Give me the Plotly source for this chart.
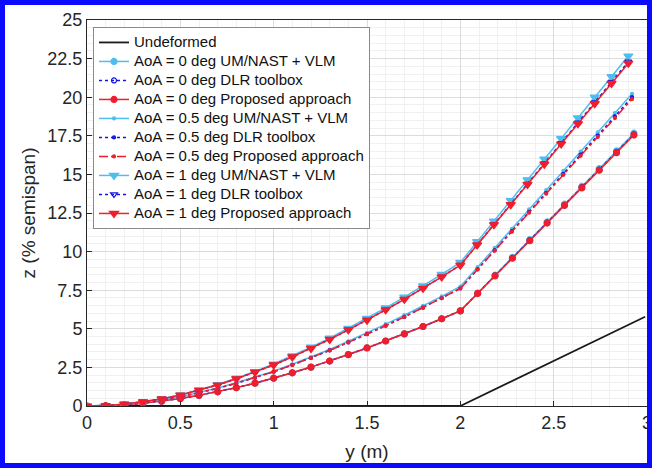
import plotly.graph_objects as go

# ---- data ----
y_in = [0, 0.1, 0.2, 0.3, 0.4, 0.5, 0.6, 0.7, 0.8, 0.9, 1.0,
        1.1, 1.2, 1.3, 1.4, 1.5, 1.6, 1.7, 1.8, 1.9, 2.0]
y_out_0 = [2.093, 2.186, 2.279, 2.372, 2.465, 2.558, 2.651, 2.744, 2.837, 2.93]
y_out_05 = [2.092, 2.184, 2.276, 2.368, 2.46, 2.552, 2.644, 2.736, 2.828, 2.92]
y_out_1 = [2.09, 2.18, 2.27, 2.36, 2.45, 2.54, 2.63, 2.72, 2.81, 2.90]

y_undeformed = [0, 2.0, 2.99]
z_undeformed = [0, 0, 5.78]

z0_in = [0, 0.02, 0.08, 0.18, 0.31, 0.48, 0.69, 0.92, 1.19, 1.48, 1.80,
         2.15, 2.52, 2.91, 3.33, 3.76, 4.21, 4.67, 5.15, 5.65, 6.16]
z0_um = z0_in + [7.32, 8.47, 9.62, 10.77, 11.92, 13.07, 14.22, 15.37, 16.52, 17.67]
z0_dlr = z0_in + [7.30, 8.45, 9.59, 10.74, 11.88, 13.02, 14.17, 15.31, 16.46, 17.60]
z0_pr = z0_in + [7.29, 8.43, 9.57, 10.71, 11.85, 12.99, 14.13, 15.27, 16.41, 17.55]

z05_um_in = [0, 0.02, 0.10, 0.23, 0.39, 0.60, 0.87, 1.16, 1.50, 1.86, 2.26,
             2.70, 3.17, 3.66, 4.19, 4.73, 5.30, 5.88, 6.48, 7.10, 7.74]
z05_in = [0, 0.02, 0.10, 0.22, 0.38, 0.59, 0.85, 1.14, 1.47, 1.83, 2.22,
          2.66, 3.11, 3.60, 4.12, 4.65, 5.20, 5.77, 6.37, 6.98, 7.61]
z05_um = z05_um_in + [8.99, 10.24, 11.48, 12.73, 13.98, 15.23, 16.48, 17.72, 18.97, 20.22]
z05_dlr = z05_in + [8.85, 10.09, 11.33, 12.57, 13.81, 15.04, 16.28, 17.52, 18.76, 20.00]
z05_pr = z05_in + [8.84, 10.06, 11.29, 12.52, 13.75, 14.97, 16.20, 17.43, 18.65, 19.88]

z1_um_in = [0, 0.03, 0.12, 0.27, 0.47, 0.72, 1.04, 1.39, 1.80, 2.23, 2.72,
            3.25, 3.81, 4.39, 5.03, 5.68, 6.36, 7.05, 7.78, 8.53, 9.30]
z1_in = [0, 0.03, 0.12, 0.27, 0.46, 0.71, 1.02, 1.36, 1.76, 2.19, 2.66,
         3.18, 3.73, 4.31, 4.93, 5.56, 6.23, 6.91, 7.62, 8.36, 9.12]
z1_um = z1_um_in + [10.64, 11.97, 13.31, 14.65, 15.99, 17.32, 18.66, 20.00, 21.33, 22.67]
z1_dlr = z1_in + [10.44, 11.76, 13.07, 14.39, 15.71, 17.03, 18.35, 19.66, 20.98, 22.30]
z1_pr = z1_in + [10.43, 11.74, 13.04, 14.35, 15.66, 16.97, 18.28, 19.58, 20.89, 22.20]

x_ticks = [0, 0.5, 1, 1.5, 2, 2.5, 3]
y_ticks = [0, 2.5, 5, 7.5, 10, 12.5, 15, 17.5, 20, 22.5, 25]
y_tick_labels = ["0", "2.5", "5", "7.5", "10", "12.5", "15", "17.5", "20", "22.5", "25"]

CYAN = "#4DBEEE"
BLUE = "#1515E6"
RED = "#F01E2C"
FONT = "Liberation Sans, Arial, sans-serif"


def lg(text):
    return '<span style="font-size:15px">' + text + "</span>"


fig = go.Figure()
fig.add_trace(go.Scatter(x=y_undeformed, y=z_undeformed, mode="lines",
                         line=dict(color="#1a1a1a", width=1.8), name=lg("Undeformed")))


def add(name, xs, zs, color, dash, symbol, size, width=1.5):
    fig.add_trace(go.Scatter(
        x=xs, y=zs, mode="lines+markers", name=lg(name),
        line=dict(color=color, width=width, dash=dash),
        marker=dict(symbol=symbol, size=size, color=color,
                    line=dict(color=color, width=1.2))))


y0 = y_in + y_out_0
y05 = y_in + y_out_05
y1 = y_in + y_out_1

add("AoA = 0 deg UM/NAST + VLM", y0, z0_um, CYAN, "solid", "circle", 6)
add("AoA = 0 deg DLR toolbox", y0, z0_dlr, BLUE, "dot", "circle-open", 5)
add("AoA = 0 deg Proposed approach", y0, z0_pr, RED, "solid", "circle", 6)
add("AoA = 0.5 deg UM/NAST + VLM", y05, z05_um, CYAN, "solid", "circle", 3)
add("AoA = 0.5 deg DLR toolbox", y05, z05_dlr, BLUE, "dot", "circle", 3)
add("AoA = 0.5 deg Proposed approach", y05, z05_pr, RED, "dashdot", "circle", 3)
add("AoA = 1 deg UM/NAST + VLM", y1, z1_um, CYAN, "solid", "triangle-down", 8)
add("AoA = 1 deg DLR toolbox", y1, z1_dlr, BLUE, "dot", "triangle-down-open", 6)
add("AoA = 1 deg Proposed approach", y1, z1_pr, RED, "solid", "triangle-down", 8)

W, H = 652, 468
ml, mr, mt, mb = 87, 5, 20, 62
pw, ph = W - ml - mr, H - mt - mb
inset = 2.5
fig.add_shape(type="rect", xref="paper", yref="paper",
              x0=-(ml - inset) / pw, x1=1 + (mr - inset) / pw,
              y0=-(mb - inset) / ph, y1=1 + (mt - inset) / ph,
              line=dict(color="#0A0AFF", width=5), layer="above")

axis_common = dict(showline=True, linecolor="#262626", linewidth=1, mirror=True,
                   ticks="inside", ticklen=5, tickcolor="#262626",
                   showgrid=True, gridcolor="#DCDCDC", gridwidth=1,
                   zeroline=False, automargin=False, ticklabeloverflow="allow",
                   tickfont=dict(family=FONT, size=18, color="#262626"))

fig.update_xaxes(range=[0, 3], tickvals=x_ticks, ticktext=[str(v) for v in x_ticks],
                 minor=dict(dtick=0.1, showgrid=True, gridcolor="#F0F0F0", ticks=""),
                 title=dict(text="y (m)", font=dict(family=FONT, size=19, color="#262626"),
                            standoff=13),
                 **axis_common)
fig.update_yaxes(range=[0, 25], tickvals=y_ticks, ticktext=y_tick_labels,
                 minor=dict(dtick=0.5, showgrid=True, gridcolor="#F0F0F0", ticks=""),
                 title=dict(text="z (% semispan)", font=dict(family=FONT, size=19, color="#262626"),
                            standoff=6),
                 **axis_common)

fig.update_layout(
    width=W, height=H,
    margin=dict(l=ml, r=mr, t=mt, b=mb, autoexpand=False),
    paper_bgcolor="white", plot_bgcolor="white",
    showlegend=True,
    legend=dict(x=0.0107, y=0.982, xanchor="left", yanchor="top",
                bgcolor="white", bordercolor="#8a8a8a", borderwidth=1,
                font=dict(family=FONT, size=11, color="#111111"),
                itemwidth=30, tracegroupgap=0),
)

fig.write_html("out.html", config={"displayModeBar": False},
               post_script="document.body.style.margin='0';document.body.style.overflow='hidden';")
